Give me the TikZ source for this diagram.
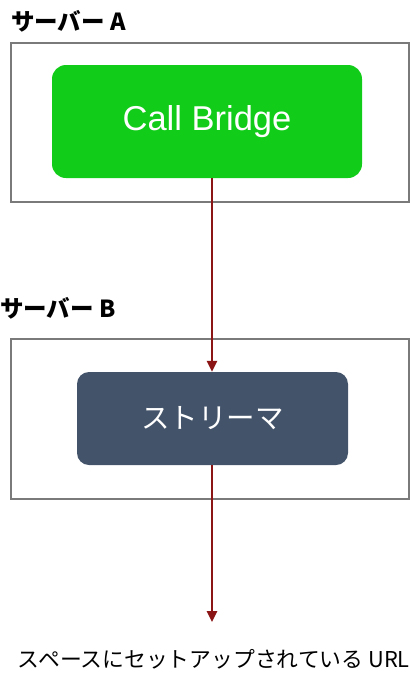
\documentclass[tikz,border=0pt]{standalone}
\usepackage{fontspec}
\setmainfont{Liberation Sans}
\newfontfamily\jp{Noto Sans CJK JP}
\usetikzlibrary{arrows.meta}
\definecolor{cbgreen}{HTML}{12CC1A}
\definecolor{slate}{HTML}{435369}
\definecolor{arrowred}{HTML}{8B1414}
\definecolor{boxgray}{HTML}{7A7A7A}
\begin{document}
\begin{tikzpicture}[x=1pt,y=-1pt,
  server/.style={draw=boxgray,line width=2.4pt},
  compbox/.style={rounded corners=14pt,text=white,inner sep=0pt},
  flow/.style={draw=arrowred,line width=2.6pt,-{Triangle[length=11pt,width=10pt]}},
  srvlabel/.style={font=\jp\bfseries\fontsize{23.5}{26}\selectfont,anchor=west,inner sep=0pt}]
\useasboundingbox (0,0) rectangle (410,673);
\fill[white] (0,0) rectangle (410,673);
\draw[server] (11,43) rectangle (409,202);
\draw[server] (11,339) rectangle (409,499);
\node[srvlabel] (la) at (11,21) {サーバー A};
\node[srvlabel] (lb) at (0,308) {サーバー B};
\node[compbox,fill=cbgreen,minimum width=310pt,minimum height=113pt,font=\fontsize{34.5}{37}\selectfont] (cb) at (207,121.5) {Call Bridge};
\node[compbox,fill=slate,minimum width=271pt,minimum height=93pt,rounded corners=12pt,font=\jp\fontsize{28.5}{30}\selectfont] (st) at (212.5,418.5) {ストリーマ};
\node[font=\jp\fontsize{21.8}{24}\selectfont,anchor=east,inner sep=0pt] (url) at (410,659) {スペースにセットアップされている URL};
\coordinate (end) at (212,622);
\draw[flow] (cb.south -| 212,0) -- (st.north -| 212,0);
\draw[flow] (st.south -| 212,0) -- (end);
\end{tikzpicture}
\end{document}
